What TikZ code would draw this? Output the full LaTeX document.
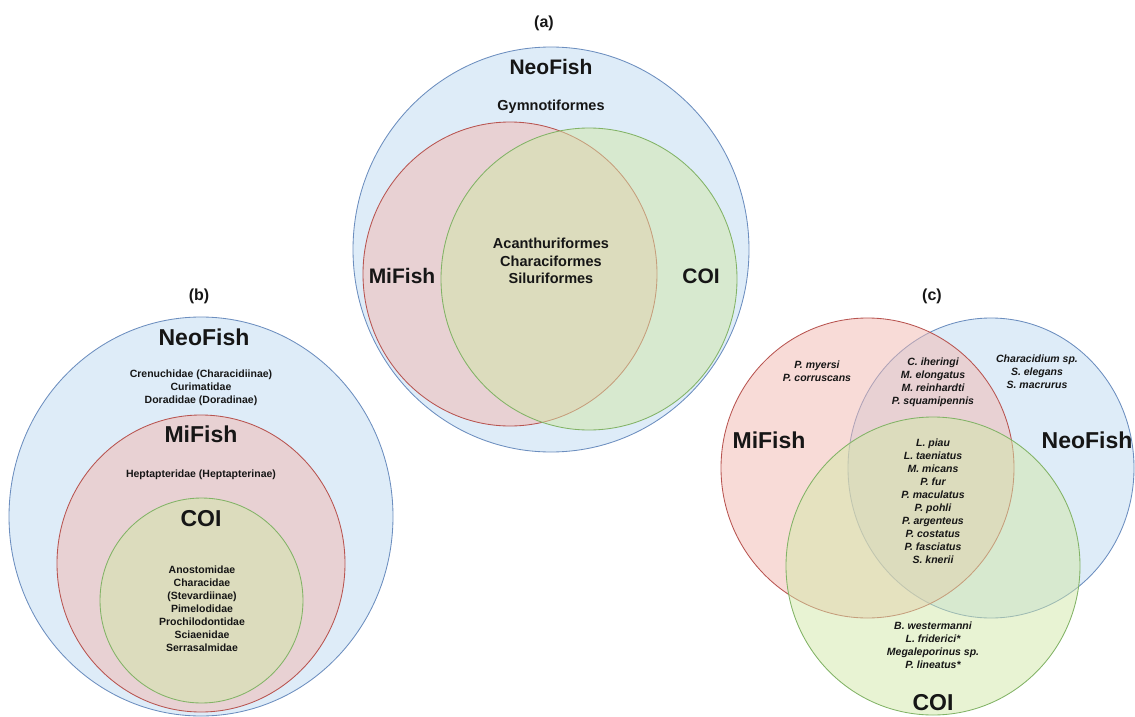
\documentclass[tikz,border=0pt]{standalone}
\usepackage{fontspec}
\setmainfont{Liberation Sans}
\definecolor{bfill}{RGB}{222,236,248}
\definecolor{bline}{RGB}{108,142,191}
\definecolor{rfill}{RGB}{242,184,176}
\definecolor{rline}{RGB}{184,84,80}
\definecolor{gfill}{RGB}{210,232,168}
\definecolor{gline}{RGB}{130,179,102}
\definecolor{txt}{RGB}{22,22,22}
\tikzset{
  neo/.style={draw=bline, fill=bfill, line width=0.85pt},
  mif/.style={draw=rline, fill=rfill, fill opacity=0.5, line width=0.85pt},
  coi/.style={draw=gline, fill=gfill, fill opacity=0.5, line width=0.85pt},
  panel/.style={font=\fontsize{16}{19}\selectfont\bfseries, text=txt, inner sep=0pt, anchor=base},
  biga/.style={font=\fontsize{21}{25}\selectfont\bfseries, text=txt, inner sep=0pt, anchor=base},
  bigb/.style={font=\fontsize{23}{27}\selectfont\bfseries, text=txt, inner sep=0pt, anchor=base},
  smalla/.style={font=\fontsize{14.5}{17.5}\selectfont\bfseries, text=txt, inner sep=0pt, align=center},
  smallb/.style={font=\fontsize{10.5}{13}\selectfont\bfseries, text=txt, inner sep=0pt, align=center},
  smallc/.style={font=\fontsize{10.5}{13}\selectfont\bfseries\itshape, text=txt, inner sep=0pt, align=center},
}
\begin{document}
\begin{tikzpicture}[x=1pt, y=-1pt]
\useasboundingbox (0,0) rectangle (1135,717);

% ---------- panel (a) ----------
\path[neo] (551,249.5) ellipse [x radius=198, y radius=202.5];
\path[mif] (510,274) ellipse [x radius=147, y radius=152];
\path[coi] (589,279) ellipse [x radius=148, y radius=151];
\node[panel] (la) at (544,28) {(a)};
\node[biga] (aneo) at (551,74.5) {NeoFish};
\node[smalla] (agym) at (551,107) {Gymnotiformes};
\node[biga] (amif) at (402,283.5) {MiFish};
\node[biga] (acoi) at (701,283.5) {COI};
\node[smalla] (acen) at (551,261) {Acanthuriformes\\Characiformes\\Siluriformes};

% ---------- panel (b) ----------
\path[neo] (201,516.5) ellipse [x radius=192, y radius=199.5];
\path[mif] (201,563.5) ellipse [x radius=144, y radius=148.5];
\path[coi] (201.5,600.5) ellipse [x radius=101.5, y radius=102.5];
\node[panel] (lb) at (199,300) {(b)};
\node[bigb] (bneo) at (204,345) {NeoFish};
\node[smallb] (bneotx) at (201,388) {Crenuchidae (Characidiinae)\\Curimatidae\\Doradidae (Doradinae)};
\node[bigb] (bmif) at (201,442) {MiFish};
\node[smallb] (bmiftx) at (201,475) {Heptapteridae (Heptapterinae)};
\node[bigb] (bcoi) at (201,526) {COI};
\node[smallb] (bcoitx) at (202,608.5) {Anostomidae\\Characidae\\(Stevardiinae)\\Pimelodidae\\Prochilodontidae\\Sciaenidae\\Serrasalmidae};

% ---------- panel (c) ----------
\path[neo] (991,468) ellipse [x radius=143, y radius=150];
\path[mif] (867.5,468) ellipse [x radius=146.5, y radius=150];
\path[coi] (933,566) ellipse [x radius=147, y radius=149];
\node[panel] (lc) at (932,300) {(c)};
\node[bigb] (cmif) at (769,448) {MiFish};
\node[bigb] (cneo) at (1087,448) {NeoFish};
\node[bigb] (ccoi) at (933,710) {COI};
\node[smallc] (cm) at (817,371.5) {P. myersi\\P. corruscans};
\node[smallc] (cmn) at (933,382.5) {C. iheringi\\M. elongatus\\M. reinhardti\\P. squamipennis};
\node[smallc] (cn) at (1037,372) {Characidium sp.\\S. elegans\\S. macrurus};
\node[smallc] (call) at (933,501.5) {L. piau\\L. taeniatus\\M. micans\\P. fur\\P. maculatus\\P. pohli\\P. argenteus\\P. costatus\\P. fasciatus\\S. knerii};
\node[smallc] (cc) at (933,645.5) {B. westermanni\\L. friderici*\\Megaleporinus sp.\\P. lineatus*};
\end{tikzpicture}
\end{document}
